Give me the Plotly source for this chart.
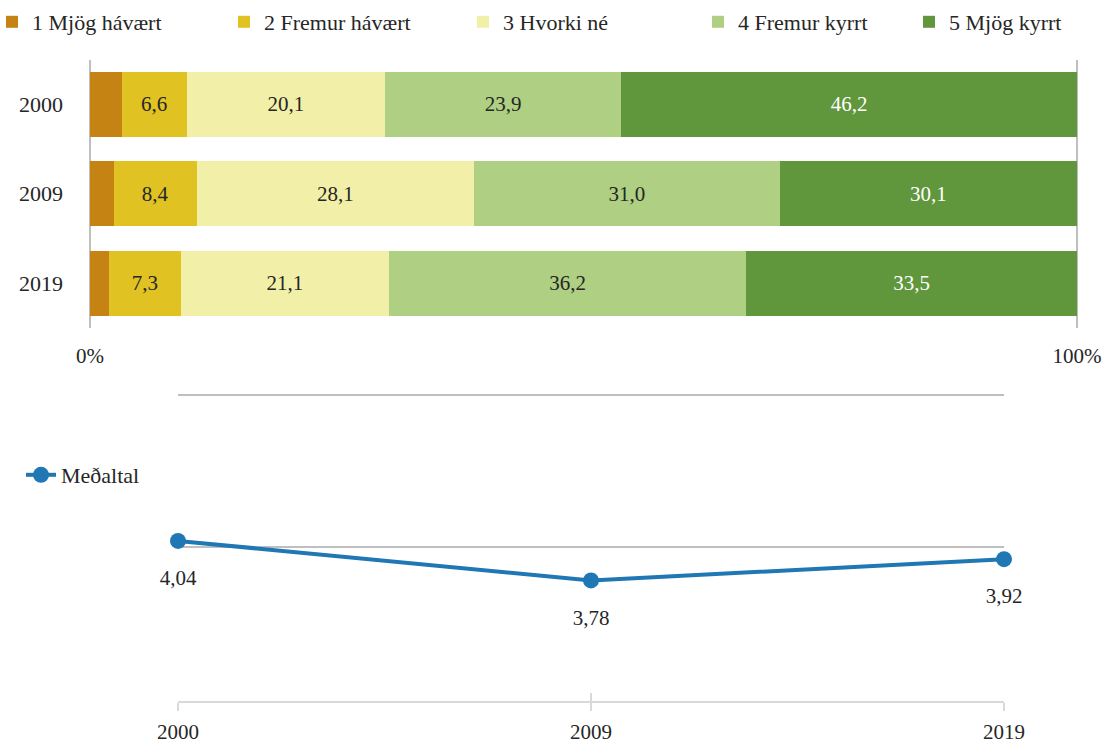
import plotly.graph_objects as go

years = ["2000", "2009", "2019"]
categories = ["1 Mjög hávært", "2 Fremur hávært", "3 Hvorki né", "4 Fremur kyrrt", "5 Mjög kyrrt"]
cat1 = [3.2, 2.4, 1.9]
cat2 = [6.6, 8.4, 7.3]
cat3 = [20.1, 28.1, 21.1]
cat4 = [23.9, 31.0, 36.2]
cat5 = [46.2, 30.1, 33.5]
means = [4.04, 3.78, 3.92]
mean_label = "Meðaltal"
pct_ticks = [0, 100]
pct_labels = ["0%", "100%"]

colors = ["#C58314", "#E0C222", "#F2F0A8", "#AFCF82", "#60963C"]
text_colors = ["#262626", "#262626", "#262626", "#262626", "#FFFFFF"]
series = [cat1, cat2, cat3, cat4, cat5]
legend_left_px = [-8, 224, 463, 698, 909]

W, H = 1110, 744
FONT = "Liberation Serif"
TXT = "#262626"
LINE_BLUE = "#1F77B4"


def fx(p):
    return p / W


def fy(p):
    return 1 - p / H


fig = go.Figure()

legend_ids = ["legend", "legend3", "legend4", "legend5", "legend6"]
for i, (name, vals) in enumerate(zip(categories, series)):
    fig.add_trace(go.Bar(
        y=years, x=vals, name=name, orientation="h",
        marker=dict(color=colors[i], line=dict(width=0)),
        texttemplate="%{x:.1f}" if i > 0 else None,
        textposition="inside" if i > 0 else "none",
        insidetextanchor="middle",
        textangle=0,
        constraintext="none",
        textfont=dict(family=FONT, size=21, color=text_colors[i]),
        xaxis="x", yaxis="y", legend=legend_ids[i],
        hoverinfo="x+name",
    ))

fig.add_trace(go.Scatter(
    x=years, y=means, name=mean_label,
    mode="lines+markers",
    line=dict(color=LINE_BLUE, width=4),
    marker=dict(color=LINE_BLUE, size=16),
    cliponaxis=False,
    xaxis="x2", yaxis="y2", legend="legend2",
))
# value labels placed below the points (transparent, larger marker gives the offset)
fig.add_trace(go.Scatter(
    x=years, y=means, name=mean_label,
    mode="markers+text",
    marker=dict(color="rgba(0,0,0,0)", size=44),
    texttemplate="%{y:.2f}",
    textposition="bottom center",
    textfont=dict(family=FONT, size=21, color=TXT),
    cliponaxis=False, showlegend=False, hoverinfo="skip",
    xaxis="x2", yaxis="y2",
))
# invisible helper so the crossing (inside) tick marks get drawn
fig.add_trace(go.Scatter(
    x=years, y=means, mode="markers",
    marker=dict(color="rgba(0,0,0,0)", size=1),
    showlegend=False, hoverinfo="skip",
    xaxis="x3", yaxis="y2",
))

legend_common = dict(
    orientation="h", yanchor="middle", xanchor="left",
    font=dict(family=FONT, size=22, color=TXT),
    itemclick=False, itemdoubleclick=False,
    bgcolor="rgba(0,0,0,0)",
)
legends = {}
for i, lid in enumerate(legend_ids):
    legends[lid] = dict(legend_common, x=fx(legend_left_px[i]), y=fy(22))
legends["legend2"] = dict(legend_common, x=fx(21), y=fy(475))

y2_lo, y2_hi = 2.985, 5.015
px_per_unit = (699 - 395) / 2.0
y2_top_px = 395 - (y2_hi - 5) * px_per_unit
y2_bot_px = 699 + (3 - y2_lo) * px_per_unit

fig.update_layout(
    width=W, height=H,
    margin=dict(l=0, r=0, t=0, b=0, autoexpand=False),
    paper_bgcolor="white", plot_bgcolor="white",
    separators=",.",
    barmode="stack",
    bargap=0.274,
    font=dict(family=FONT, size=21, color=TXT),
    xaxis=dict(
        domain=[fx(88), fx(1079)], range=[-0.2, 100.2],
        tickvals=pct_ticks, ticktext=pct_labels,
        showgrid=True, gridcolor="#BFBFBF", gridwidth=2,
        zeroline=False, showline=False, ticks="",
        ticklabelstandoff=13, anchor="y", automargin=False,
        tickfont=dict(family=FONT, size=21, color=TXT),
    ),
    yaxis=dict(
        domain=[fy(327.75), fy(59.75)], type="category",
        categoryorder="array", categoryarray=years,
        range=[2.5, -0.5],
        showgrid=False, zeroline=False, showline=False, ticks="",
        ticklabelstandoff=24, anchor="x", automargin=False,
        tickfont=dict(family=FONT, size=22, color=TXT),
    ),
    xaxis2=dict(
        domain=[fx(178), fx(1004)], type="category",
        categoryorder="array", categoryarray=years,
        range=[0, 2], anchor="y2", automargin=False,
        showline=True, linecolor="#D9D9D9", linewidth=2,
        ticks="outside", ticklen=8, tickwidth=2, tickcolor="#D9D9D9",
        showgrid=False, zeroline=False,
        ticklabelstandoff=3,
        tickfont=dict(family=FONT, size=21, color=TXT),
    ),
    xaxis3=dict(
        domain=[fx(178), fx(1004)], type="category",
        categoryorder="array", categoryarray=years,
        range=[0, 2], overlaying="x2", anchor="y2", automargin=False,
        showticklabels=False,
        ticks="inside", ticklen=8, tickwidth=2, tickcolor="#D9D9D9",
        showline=False, showgrid=False, zeroline=False,
    ),
    yaxis2=dict(
        domain=[fy(y2_bot_px), fy(y2_top_px)], range=[y2_lo, y2_hi],
        tickvals=[4, 5], showticklabels=False,
        showgrid=True, gridcolor="#BFBFBF", gridwidth=2,
        zeroline=False, showline=False, ticks="", anchor="x2",
        automargin=False,
    ),
    showlegend=True,
    **legends,
)

fig.write_html(
    "out.html",
    config={"displayModeBar": False},
    post_script="document.body.style.margin='0px';document.body.style.overflow='hidden';",
)
